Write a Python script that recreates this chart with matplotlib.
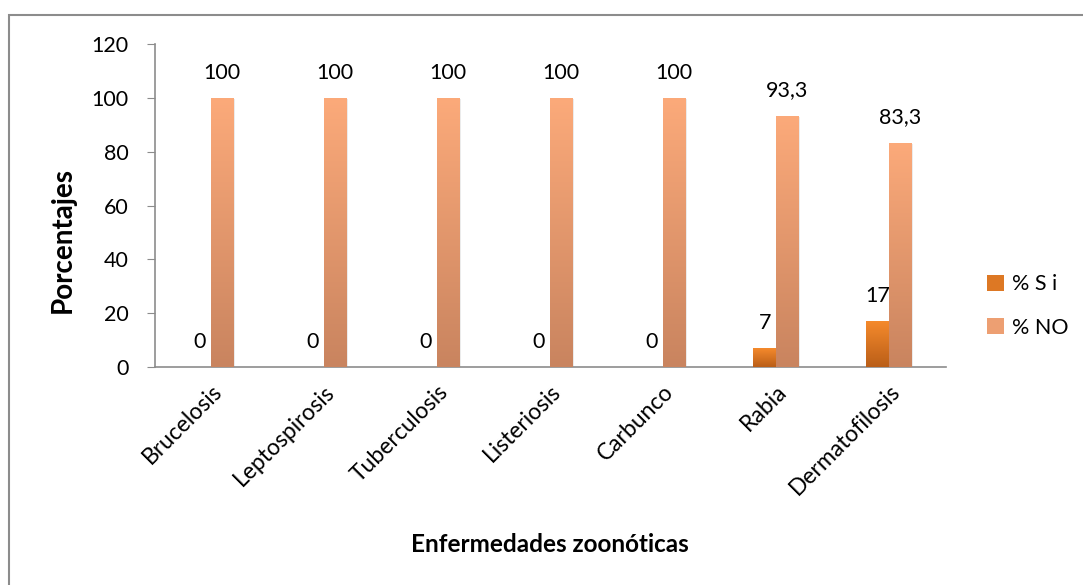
import numpy as np
import matplotlib.pyplot as plt
from matplotlib.colors import LinearSegmentedColormap
from matplotlib.patches import Rectangle

plt.rcParams['font.family'] = ['Lato', 'DejaVu Sans']

enfermedades = ['Brucelosis', 'Leptospirosis', 'Tuberculosis', 'Listeriosis',
                'Carbunco', 'Rabia', 'Dermatofilosis']
pct_si = [0, 0, 0, 0, 0, 7, 17]
pct_no = [100, 100, 100, 100, 100, 93.3, 83.3]
etiquetas_si = ['0', '0', '0', '0', '0', '7', '17']
etiquetas_no = ['100', '100', '100', '100', '100', '93,3', '83,3']

# vertical gradients, dark at the base and light at the top
cmap_si = LinearSegmentedColormap.from_list('si', ['#BA5E18', '#F58A2C'])
cmap_no = LinearSegmentedColormap.from_list('no', ['#C9845F', '#FCAA7A'])

fig = plt.figure(figsize=(10.83, 5.85), dpi=100)
fig.patches.append(Rectangle((8.5 / 1083, -0.1), 1.2, (585 - 14.5) / 585 + 0.1,
                             transform=fig.transFigure, fill=False,
                             edgecolor='#8c8c8c', linewidth=1.5))
ax = fig.add_axes([154.5 / 1083, 1 - 367 / 585, 791 / 1083, 323 / 585])

x = np.arange(len(enfermedades))
w = 0.2
gradiente = np.linspace(0, 1, 256).reshape(-1, 1)


def barras_gradiente(pos, valores, cmap):
    barras = ax.bar(pos, valores, w, color=cmap(0.5), zorder=2)
    for b in barras:
        h = b.get_height()
        if h <= 0:
            continue
        x0 = b.get_x()
        # soft shadow on the right side
        ax.add_patch(Rectangle((x0 + 0.012, 0), w, h - 0.6, facecolor='#000000',
                               alpha=0.08, linewidth=0, zorder=1))
        im = ax.imshow(gradiente, cmap=cmap, origin='lower', aspect='auto',
                       extent=(x0, x0 + w, 0, h), zorder=3)
        im.set_clip_path(b)
    return barras


b_si = barras_gradiente(x - w / 2, pct_si, cmap_si)
b_no = barras_gradiente(x + w / 2, pct_no, cmap_no)

for xi, v, t in zip(x - w / 2, pct_si, etiquetas_si):
    ax.annotate(t, (xi, v), xytext=(0, 11), textcoords='offset points',
                ha='center', va='bottom', fontsize=15.5, color='black', zorder=5)
for xi, v, t in zip(x + w / 2, pct_no, etiquetas_no):
    ax.annotate(t, (xi, v), xytext=(0, 11), textcoords='offset points',
                ha='center', va='bottom', fontsize=15.5, color='black', zorder=5)

ax.set_xlim(-0.5, len(enfermedades) - 0.5)
ax.set_ylim(0, 120)
ax.set_yticks(range(0, 121, 20))
ax.set_xticks(x)
ax.set_xticklabels(enfermedades, rotation=45, ha='right', rotation_mode='anchor',
                   fontsize=16.5)
ax.tick_params(axis='x', length=0, pad=10)
ax.tick_params(axis='y', labelsize=15.5, length=5.5, color='#8c8c8c', pad=13)

for s in ['top', 'right']:
    ax.spines[s].set_visible(False)
for s in ['left', 'bottom']:
    ax.spines[s].set_color('#8c8c8c')
    ax.spines[s].set_linewidth(1.2)

ax.set_ylabel('Porcentajes', fontsize=20, fontweight='bold')
ax.set_xlabel('Enfermedades zoonóticas', fontsize=17.5, fontweight='bold')
ax.xaxis.set_label_coords(0.5, -0.515)
ax.yaxis.set_label_coords(-0.099, 0.393)

leg = fig.legend([Rectangle((0, 0), 1, 1, facecolor=cmap_si(0.6)),
                  Rectangle((0, 0), 1, 1, facecolor=cmap_no(0.7))],
                 ['% S i', '% NO'], loc='center left',
                 bbox_to_anchor=(968 / 1083, 1 - 306 / 585), frameon=False,
                 fontsize=15.5, handlelength=0.75, handleheight=0.75,
                 handletextpad=0.4, labelspacing=1.1)

fig.savefig('out.png', dpi=100)
